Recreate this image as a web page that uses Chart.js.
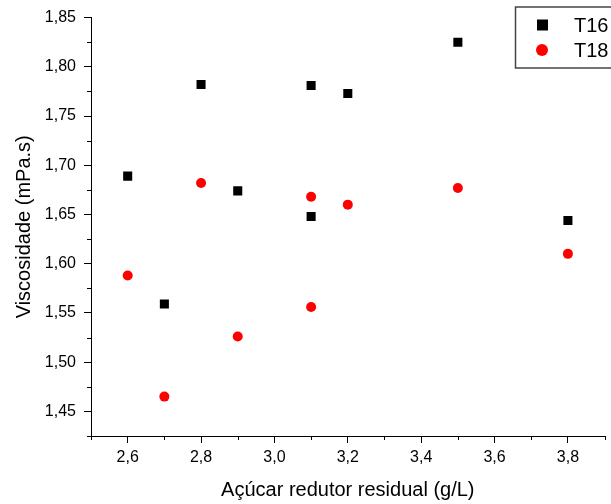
<!DOCTYPE html>
<html>
<head>
<meta charset="utf-8">
<script src="https://cdn.jsdelivr.net/npm/chart.js@4.4.0/dist/chart.umd.min.js"></script>
<style>
  html, body { margin: 0; padding: 0; background: #fff; }
  #wrap { width: 611px; height: 504px; }
</style>
</head>
<body>
<div id="wrap"><canvas id="chart"></canvas></div>
<script>
// Dados
const acucarT16 = [2.6, 2.7, 2.8, 2.9, 3.1, 3.1, 3.2, 3.5, 3.8];
const viscT16 = [1.689, 1.559, 1.782, 1.674, 1.781, 1.648, 1.773, 1.825, 1.644];
const acucarT18 = [2.6, 2.7, 2.8, 2.9, 3.1, 3.1, 3.2, 3.5, 3.8];
const viscT18 = [1.588, 1.465, 1.682, 1.526, 1.668, 1.556, 1.660, 1.677, 1.610];

const xTicks = [2.6, 2.8, 3.0, 3.2, 3.4, 3.6, 3.8];
const xTickLabels = ["2,6", "2,8", "3,0", "3,2", "3,4", "3,6", "3,8"];
const yTicks = [1.45, 1.50, 1.55, 1.60, 1.65, 1.70, 1.75, 1.80, 1.85];
const yTickLabels = ["1,45", "1,50", "1,55", "1,60", "1,65", "1,70", "1,75", "1,80", "1,85"];
const xMinor = [2.5, 2.7, 2.9, 3.1, 3.3, 3.5, 3.7, 3.9];
const yMinor = [1.425, 1.475, 1.525, 1.575, 1.625, 1.675, 1.725, 1.775, 1.825];

const FONT = "'Liberation Sans', Arial, sans-serif";

function toPoints(xs, ys) {
  return xs.map((x, i) => ({ x: x, y: ys[i] }));
}

// Petits traits + légende encadrée
const extrasPlugin = {
  id: "extras",
  afterDraw(chart) {
    const { ctx, scales: { x, y } } = chart;
    ctx.save();
    ctx.strokeStyle = "#000";
    ctx.lineWidth = 1;
    ctx.beginPath();
    xMinor.forEach((v) => {
      const px = Math.round(x.getPixelForValue(v)) + 0.5;
      ctx.moveTo(px, x.top);
      ctx.lineTo(px, x.top + 4);
    });
    yMinor.forEach((v) => {
      const py = Math.round(y.getPixelForValue(v)) + 0.5;
      ctx.moveTo(y.right, py);
      ctx.lineTo(y.right - 4, py);
    });
    ctx.stroke();

    // legend
    ctx.strokeStyle = "#444";
    ctx.lineWidth = 1.5;
    ctx.strokeRect(515.5, 7, 110, 61);
    chart.data.datasets.forEach((ds, i) => {
      const cy = 25 + i * 25;
      ctx.fillStyle = ds.backgroundColor;
      if (ds.pointStyle === "rect") {
        ctx.fillRect(537, cy - 5.5, 11, 11);
      } else {
        ctx.beginPath();
        ctx.arc(542, cy, 6, 0, Math.PI * 2);
        ctx.fill();
      }
      ctx.fillStyle = "#000";
      ctx.font = "20px " + FONT;
      ctx.textBaseline = "alphabetic";
      ctx.fillText(ds.label, 574, cy + 7);
    });
    ctx.restore();
  },
};

const ctx = document.getElementById("chart").getContext("2d");
new Chart(ctx, {
  type: "scatter",
  data: {
    datasets: [
      {
        label: "T16",
        data: toPoints(acucarT16, viscT16),
        pointStyle: "rect",
        backgroundColor: "#000000",
        borderWidth: 0,
        pointRadius: 6.4,
        pointHoverRadius: 6.4,
      },
      {
        label: "T18",
        data: toPoints(acucarT18, viscT18),
        pointStyle: "circle",
        backgroundColor: "#ff0000",
        borderWidth: 0,
        pointRadius: 5,
        pointHoverRadius: 5,
      },
    ],
  },
  options: {
    responsive: true,
    maintainAspectRatio: false,
    animation: false,
    layout: { padding: { top: 17, right: 1, left: 0, bottom: 0 } },
    plugins: {
      legend: { display: false },
      tooltip: { enabled: false },
    },
    scales: {
      x: {
        type: "linear",
        min: 2.5,
        max: 3.9,
        afterBuildTicks: (s) => {
          s.ticks = xTicks.map((v) => ({ value: v }));
        },
        afterFit: (s) => {
          s.height = 68;
        },
        ticks: {
          callback: (v) => xTickLabels[xTicks.indexOf(v)],
          font: { family: FONT, size: 16 },
          color: "#000",
          padding: 5,
          maxRotation: 0,
          autoSkip: false,
        },
        grid: { drawOnChartArea: false, tickLength: 7, tickColor: "#000", tickWidth: 1 },
        border: { color: "#000", width: 1 },
        title: {
          display: true,
          text: "Açúcar redutor residual (g/L)",
          font: { family: FONT, size: 20 },
          color: "#000",
          padding: { bottom: 2 },
        },
      },
      y: {
        type: "linear",
        min: 1.425,
        max: 1.85,
        afterBuildTicks: (s) => {
          s.ticks = yTicks.map((v) => ({ value: v }));
        },
        afterFit: (s) => {
          s.width = 91;
        },
        ticks: {
          callback: (v) => yTickLabels[yTicks.indexOf(v)],
          font: { family: FONT, size: 16 },
          color: "#000",
          padding: 8,
          autoSkip: false,
        },
        grid: { drawOnChartArea: false, tickLength: 7, tickColor: "#000", tickWidth: 1 },
        border: { color: "#000", width: 1 },
        title: {
          display: true,
          text: "Viscosidade (mPa.s)",
          font: { family: FONT, size: 20 },
          color: "#000",
          padding: { top: 12 },
        },
      },
    },
  },
  plugins: [extrasPlugin],
});
</script>
</body>
</html>
